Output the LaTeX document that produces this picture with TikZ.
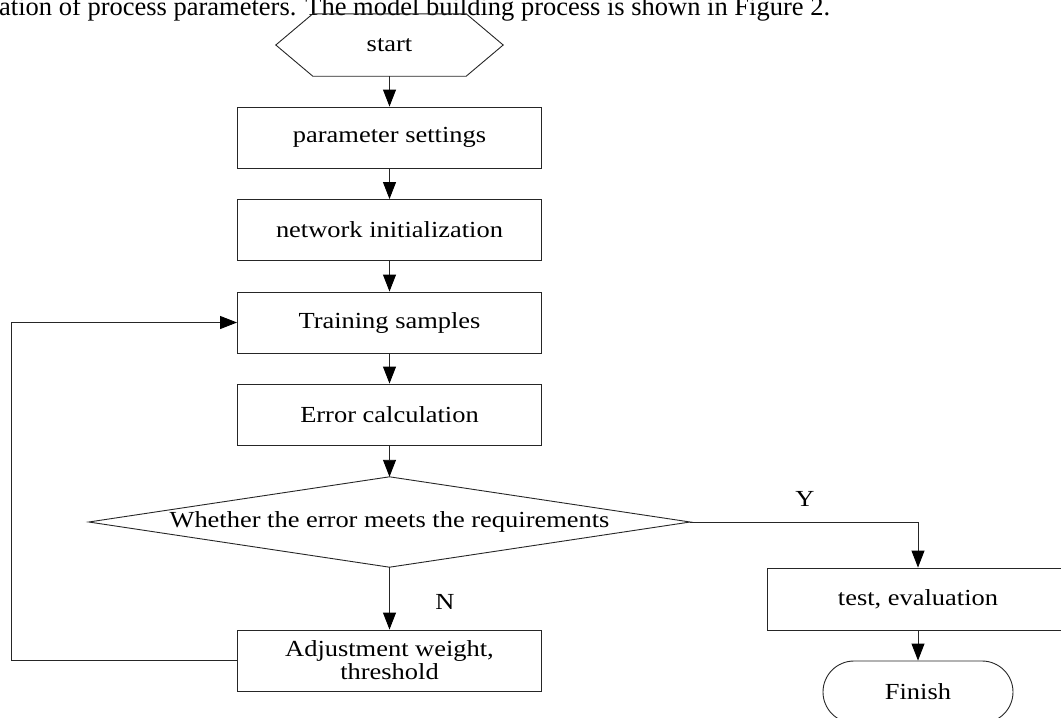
\documentclass[tikz,border=0pt]{standalone}
\usepackage{fontspec}
\setmainfont{Liberation Serif}[FakeStretch=1.15]
\newfontfamily\plainserif{Liberation Serif}
\usetikzlibrary{arrows.meta,shapes.misc}
\begin{document}
\begin{tikzpicture}[x=1pt,y=-1pt,
  line/.style={draw=black!85,line width=0.9pt},
  arr/.style={line,-{Triangle[length=17pt,width=13pt,fill=black,color=black]}},
  procbox/.style={line,rectangle,minimum width=304pt,minimum height=61pt,inner sep=0pt,align=center,
     font=\fontsize{23}{23}\selectfont},
  lbl/.style={inner sep=0pt,font=\fontsize{23}{23}\selectfont}]
\useasboundingbox (0,0) rectangle (1061,718);
\clip (0,0) rectangle (1061,718);
% cut-off line of running text above the figure
\node[anchor=base west,inner sep=0pt,font=\plainserif\fontsize{26.5}{28}\selectfont] (toptext) at (-1,15)
  {ation of process parameters. The model building process is shown in Figure 2.};
% start hexagon
\node[lbl,minimum width=227pt,minimum height=62pt] (start) at (389.5,45) {start};
\draw[line] (start.west) -- ([xshift=37pt]start.north west) -- ([xshift=-37pt]start.north east)
  -- (start.east) -- ([xshift=-37pt]start.south east) -- ([xshift=37pt]start.south west) -- cycle;
\node[procbox] (param) at (389.5,137.5) {parameter settings};
\node[procbox] (net) at (389.5,230) {network initialization};
\node[procbox] (train) at (389.5,322.5) {Training samples};
\node[procbox] (err) at (389.5,414.5) {Error calculation};
% decision diamond
\node[lbl,minimum width=601pt,minimum height=90pt] (dec) at (389.5,522) {Whether the error meets the requirements};
\draw[line] (dec.west) -- (dec.north) -- (dec.east) -- (dec.south) -- cycle;
\node[procbox] (adj) at (389.5,660.5) {Adjustment weight,\\threshold};
\node[procbox,minimum width=302pt,minimum height=62pt] (test) at (918,599) {test, evaluation};
\node[line,rounded rectangle,minimum width=190pt,minimum height=62pt,inner sep=0pt,
  font=\fontsize{23}{23}\selectfont] (fin) at (918,692) {Finish};
% connectors
\draw[arr] (start.south) -- (param.north);
\draw[arr] (param.south) -- (net.north);
\draw[arr] (net.south) -- (train.north);
\draw[arr] (train.south) -- (err.north);
\draw[arr] (err.south) -- (dec.north);
\draw[arr] (dec.south) -- (adj.north);
\draw[arr] (dec.east) -| (test.north);
\draw[arr] (test.south) -- (fin.north);
\coordinate (lp) at (11,0);
\draw[arr] (adj.west) -- (adj.west -| lp) |- (train.west);
% branch labels
\node[lbl] (ylab) at (805,499) {Y};
\node[lbl] (nlab) at (445,602) {N};
\end{tikzpicture}
\end{document}
